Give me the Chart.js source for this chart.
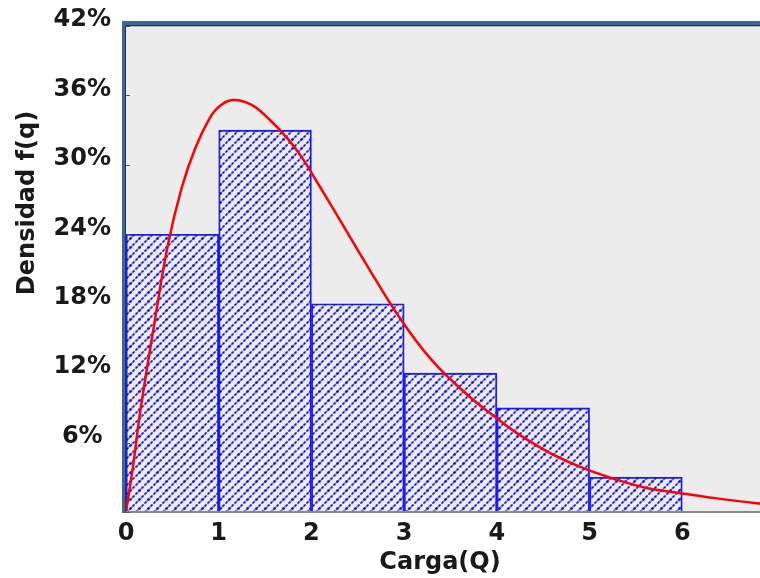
<!DOCTYPE html>
<html>
<head>
<meta charset="utf-8">
<script src="https://cdn.jsdelivr.net/npm/chart.js@4.4.1/dist/chart.umd.min.js"></script>
<style>
  html, body { margin: 0; padding: 0; background: #fff; overflow: hidden; }
  #wrap { width: 775px; height: 578px; }
</style>
</head>
<body>
<div id="wrap"><canvas id="c"></canvas></div>
<script>
// histogram: one bar per unit interval of Q, density in %
const binCenters = [0.5, 1.5, 2.5, 3.5, 4.5, 5.5];
const binDensity = [24, 33, 18, 12, 9, 3];

// fitted density curve f(q), in %
const curveQ = [0, 0.08, 0.15, 0.3, 0.45, 0.6, 0.75, 0.9, 1.0, 1.15, 1.35, 1.55, 1.75, 1.9, 2.1, 2.25, 2.6, 2.95, 3.3, 3.7, 4.0, 4.2, 4.55, 4.9, 5.25, 5.6, 6.0, 6.35, 6.8, 7.0];
const curveF = [0, 4.2, 8.5, 16, 23, 28, 31.5, 34, 35, 35.6, 35.2, 33.9, 32.2, 30.6, 28.0, 26.0, 21.3, 16.8, 13.1, 10.0, 8.1, 6.9, 5.2, 3.9, 2.9, 2.1, 1.6, 1.2, 0.75, 0.6];

const xTicks = [0, 1, 2, 3, 4, 5, 6];
const yTicks = [0, 6, 12, 18, 24, 30, 36, 42];

const FONT = { family: 'DejaVu Sans', size: 24, weight: 'bold' };

// diagonal dotted stripes for the bars
function hatchPattern(ctx) {
  const n = 9;
  const t = document.createElement('canvas');
  t.width = n; t.height = n;
  const g = t.getContext('2d');
  g.strokeStyle = 'rgba(30,30,255,0.6)';
  g.lineWidth = 1.4;
  g.beginPath();
  g.moveTo(-1, n + 1); g.lineTo(n + 1, -1);
  g.stroke();
  g.fillStyle = '#0000ff';
  [[1.5, 7.5, 1.0], [4.5, 4.5, 1.3], [7.5, 1.5, 1.0]].forEach(([x, y, r]) => {
    g.beginPath(); g.arc(x, y, r, 0, Math.PI * 2); g.fill();
  });
  return ctx.createPattern(t, 'repeat');
}

// plot frame, inner y ticks and axis titles
const frame = {
  id: 'frame',
  beforeDatasetsDraw(chart) {
    const { ctx, chartArea: a } = chart;
    ctx.save();
    ctx.fillStyle = '#ececec';
    ctx.fillRect(a.left, a.top, a.right - a.left, a.bottom - a.top);
    ctx.restore();
  },
  afterDraw(chart) {
    const { ctx, chartArea: a, scales } = chart;
    ctx.save();
    // bottom axis line
    ctx.fillStyle = '#8a8a8a';
    ctx.fillRect(a.left, a.bottom - 1, a.right - a.left, 2);
    // top & left bands
    ctx.fillStyle = '#3b679a';
    ctx.fillRect(a.left - 4, a.top - 5, a.right - a.left + 4, 5);
    ctx.fillRect(a.left - 4, a.top - 5, 4, a.bottom - a.top + 6);
    ctx.fillStyle = '#24374f';
    ctx.fillRect(a.left, a.top - 1, a.right - a.left, 1);
    ctx.fillRect(a.left - 1, a.top, 1, a.bottom - a.top);
    ctx.fillStyle = '#b4b4b4';
    ctx.fillRect(a.left, a.top, a.right - a.left, 1);
    // y ticks drawn inwards
    ctx.strokeStyle = '#555';
    ctx.lineWidth = 1;
    scales.y.ticks.forEach(t => {
      const y = Math.round(scales.y.getPixelForValue(t.value)) + 0.5;
      ctx.beginPath(); ctx.moveTo(a.left, y); ctx.lineTo(a.left + 4, y); ctx.stroke();
    });
    // axis titles
    ctx.fillStyle = '#1a1a1a';
    ctx.font = 'bold 24px "DejaVu Sans"';
    ctx.textAlign = 'center';
    ctx.textBaseline = 'middle';
    ctx.fillText('Carga(Q)', 440, 563);
    ctx.translate(28, 203);
    ctx.rotate(-Math.PI / 2);
    ctx.fillText('Densidad f(q)', 0, 0);
    ctx.restore();
  }
};

const ctx = document.getElementById('c').getContext('2d');

new Chart(ctx, {
  type: 'bar',
  data: {
    datasets: [
      {
        type: 'line',
        order: 0,
        data: curveQ.map((q, i) => ({ x: q, y: curveF[i] })),
        borderColor: '#ff0000',
        borderWidth: 2.5,
        pointRadius: 0,
        tension: 0.4,
        fill: false,
      },
      {
        type: 'bar',
        order: 1,
        data: binCenters.map((q, i) => ({ x: q, y: binDensity[i] })),
        backgroundColor: hatchPattern(ctx),
        borderColor: '#1a1aff',
        borderWidth: 1.2,
        barPercentage: 1,
        categoryPercentage: 1,
      },
    ],
  },
  options: {
    responsive: true,
    maintainAspectRatio: false,
    animation: false,
    layout: { padding: { top: 26, right: 0, bottom: 0, left: 0 } },
    plugins: { legend: { display: false }, tooltip: { enabled: false } },
    scales: {
      x: {
        type: 'linear',
        min: 0,
        max: 7,
        offset: false,
        afterBuildTicks: s => { s.ticks = xTicks.map(v => ({ value: v })); },
        afterFit: s => { s.height = 66; },
        grid: { display: false },
        border: { display: false },
        ticks: {
          color: '#1a1a1a',
          font: FONT,
          padding: -1,
          maxRotation: 0,
          autoSkip: false,
        },
      },
      y: {
        min: 0,
        max: 42,
        afterBuildTicks: s => { s.ticks = yTicks.map(v => ({ value: v })); },
        afterFit: s => { s.width = 126; },
        grid: { display: false },
        border: { display: false },
        ticks: {
          color: '#1a1a1a',
          font: FONT,
          padding: 7,
          crossAlign: 'center',
          labelOffset: -6,
          callback: v => (v === 0 ? '' : v + '%'),
        },
      },
    },
  },
  plugins: [frame],
});
</script>
</body>
</html>
